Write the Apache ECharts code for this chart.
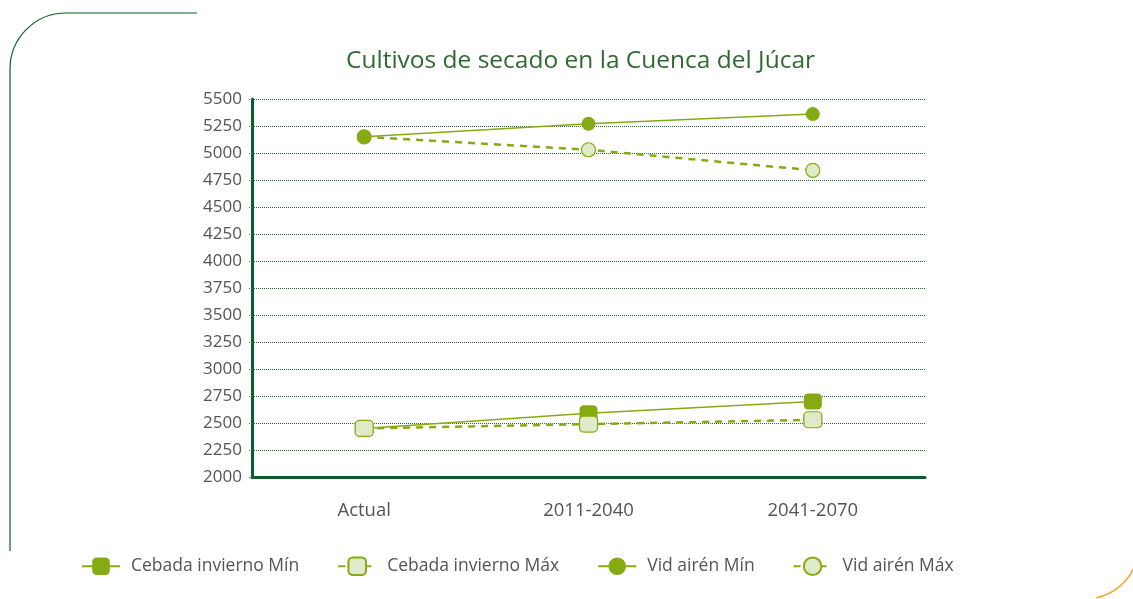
<!DOCTYPE html>
<html>
<head>
<meta charset="utf-8">
<script src="https://cdn.jsdelivr.net/npm/echarts@6/dist/echarts.min.js"></script>
<style>
  html, body { margin: 0; padding: 0; background: #fff; }
  #main { width: 1133px; height: 599px; }
</style>
</head>
<body>
<div id="main"></div>
<script>
var periods = ['Actual', '2011-2040', '2041-2070'];
var cebadaMin = [2450, 2590, 2700];
var cebadaMax = [2450, 2490, 2530];
var vidMin = [5150, 5270, 5360];
var vidMax = [5150, 5030, 4840];

var green = '#86ab12';
var light = '#e0e9c8';
var dark = '#0b5e2b';

var chart = echarts.init(document.getElementById('main'), null, { renderer: 'canvas' });

function serie(name, data, symbol, filled, dashed, z) {
    return {
        name: name,
        type: 'line',
        z: z,
        data: data,
        symbol: symbol,
        symbolSize: symbol === 'circle' ? 14 : [18, 16],
        showSymbol: true,
        lineStyle: { color: green, width: dashed ? 2.5 : 1.5, type: dashed ? [7, 6] : 'solid' },
        itemStyle: {
            color: filled ? green : light,
            borderColor: green,
            borderWidth: filled ? 0 : 1.2
        },
        emphasis: { disabled: true }
    };
}

var option = {
    animation: false,
    textStyle: { fontFamily: 'Open Sans' },
    title: {
        text: 'Cultivos de secado en la Cuenca del Júcar',
        left: 341,
        top: 44,
        textStyle: { color: '#2f6b30', fontSize: 24.5, fontWeight: 'normal', fontFamily: 'Open Sans' }
    },
    legend: {
        bottom: 18,
        left: 76,
        itemWidth: 38,
        itemHeight: 22,
        itemGap: 38,
        textStyle: { color: '#555', fontSize: 17.5, fontFamily: 'Open Sans', padding: [0, 0, 0, 6] },
        data: ['Cebada invierno Mín', 'Cebada invierno Máx', 'Vid airén Mín', 'Vid airén Máx']
    },
    grid: { left: 252, right: 208, top: 99, bottom: 122 },
    xAxis: {
        type: 'category',
        data: periods,
        boundaryGap: true,
        axisLine: { lineStyle: { color: dark, width: 3 } },
        axisTick: { show: false },
        axisLabel: { color: '#555', fontSize: 18.5, margin: 24 }
    },
    yAxis: {
        type: 'value',
        min: 2000,
        max: 5500,
        interval: 250,
        axisLine: { show: true, lineStyle: { color: dark, width: 3 } },
        axisTick: { show: true, length: 4, lineStyle: { color: '#3a7a4a', type: 'dotted' } },
        axisLabel: { color: '#555', fontSize: 17, margin: 10, formatter: function (v) { return String(v); } },
        splitLine: { lineStyle: { color: '#2e6e3e', type: 'dotted', width: 1 } }
    },
    graphic: [
        {
            type: 'line',
            shape: { x1: 66, y1: 13, x2: 197, y2: 13 },
            style: { stroke: dark, lineWidth: 1.2 }
        },
        {
            type: 'arc',
            shape: { cx: 66, cy: 69, r: 56, startAngle: Math.PI, endAngle: Math.PI * 1.5, clockwise: true },
            style: { fill: null, stroke: dark, lineWidth: 1.2 }
        },
        {
            type: 'line',
            shape: { x1: 10, y1: 69, x2: 10, y2: 551 },
            style: { stroke: dark, lineWidth: 1.2 }
        },
        {
            type: 'arc',
            shape: { cx: 1085, cy: 545, r: 54, startAngle: 0.4, endAngle: 1.36, clockwise: true },
            style: { fill: null, stroke: '#f5a623', lineWidth: 1.5 }
        }
    ],
    series: [
        serie('Cebada invierno Mín', cebadaMin, 'roundRect', true, false, 2),
        serie('Cebada invierno Máx', cebadaMax, 'roundRect', false, true, 3),
        serie('Vid airén Mín', vidMin, 'circle', true, false, 3),
        serie('Vid airén Máx', vidMax, 'circle', false, true, 2)
    ]
};

chart.setOption(option);
window.addEventListener('resize', chart.resize);
</script>
</body>
</html>
